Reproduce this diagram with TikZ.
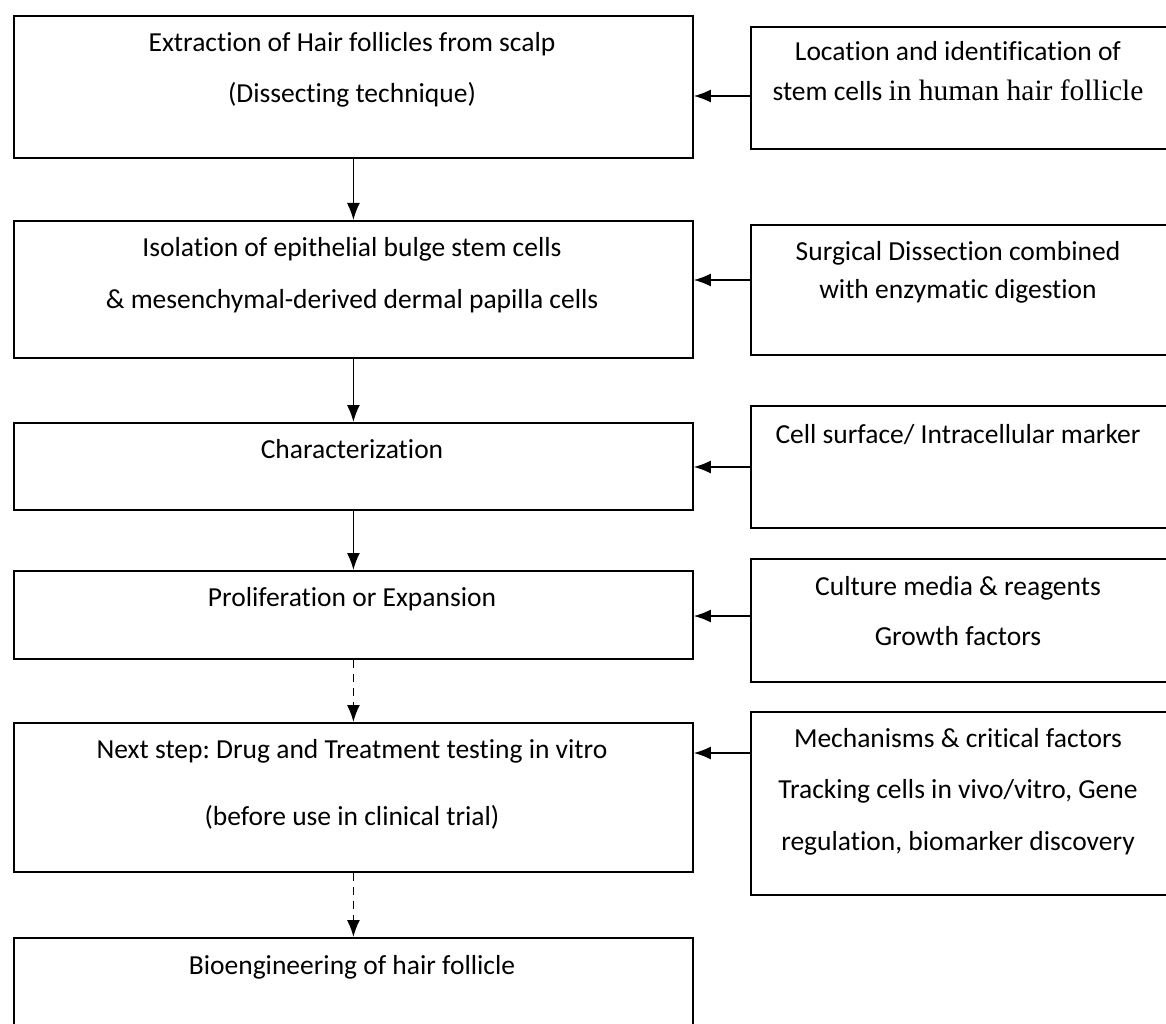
\documentclass[tikz,border=0pt]{standalone}
\usepackage{fontspec}
\setmainfont{Carlito}[Ligatures=NoCommon]
\newfontfamily\serifx{Liberation Serif}
\usetikzlibrary{arrows.meta}
\frenchspacing
\begin{document}
\begin{tikzpicture}[x=1pt,y=-1pt,
  box/.style={draw, line width=1.8pt, rectangle, inner sep=0pt, anchor=north west},
  txt/.style={font=\fontsize{27.5}{32}\selectfont, anchor=base, inner sep=0pt},
  arr/.style={-{Latex[length=17pt,width=13pt]}, line width=1.6pt},
  darr/.style={arr, dash pattern=on 8pt off 6pt}]
\useasboundingbox (0,0) rectangle (1166,1024);
\clip (0,0) rectangle (1166,1024);

% left column boxes
\node[box, minimum width=679pt, minimum height=142pt] (L1) at (13,15) {};
\node[box, minimum width=679pt, minimum height=137pt] (L2) at (13,220) {};
\node[box, minimum width=679pt, minimum height=87pt]  (L3) at (13,422) {};
\node[box, minimum width=679pt, minimum height=88pt]  (L4) at (13,570) {};
\node[box, minimum width=679pt, minimum height=149pt] (L5) at (13,722) {};
\node[box, minimum width=679pt, minimum height=120pt] (L6) at (13,937) {};

% right column boxes
\node[box, minimum width=440pt, minimum height=122pt] (R1) at (750,26) {};
\node[box, minimum width=440pt, minimum height=130pt] (R2) at (750,224) {};
\node[box, minimum width=440pt, minimum height=122pt] (R3) at (750,405) {};
\node[box, minimum width=440pt, minimum height=123pt] (R4) at (750,558) {};
\node[box, minimum width=440pt, minimum height=183pt] (R5) at (750,711) {};

% left texts
\node[txt] (l1a) at (352,52) {Extraction of Hair follicles from scalp};
\node[txt] (l1b) at (352,103) {(Dissecting technique)};
\node[txt] (l2a) at (352,256) {Isolation of epithelial bulge stem cells};
\node[txt] (l2b) at (352,308) {\& mesenchymal-derived dermal papilla cells};
\node[txt] (l3a) at (352,458) {Characterization};
\node[txt] (l4a) at (352,606) {Proliferation or Expansion};
\node[txt] (l5a) at (352,758) {Next step: Drug and Treatment testing in vitro};
\node[txt] (l5b) at (352,825) {(before use in clinical trial)};
\node[txt] (l6a) at (352,974) {Bioengineering of hair follicle};

% right texts
\node[txt] (r1a) at (958,61) {Location and identification of};
\node[txt] (r1b) at (958,101) {stem cells {\serifx\fontsize{29.5}{32}\selectfont in human hair follicle}};
\node[txt] (r2a) at (958,260) {Surgical Dissection combined};
\node[txt] (r2b) at (958,298) {with enzymatic digestion};
\node[txt] (r3a) at (958,443) {Cell surface/ Intracellular marker};
\node[txt] (r4a) at (958,595) {Culture media \& reagents};
\node[txt] (r4b) at (958,645) {Growth factors};
\node[txt] (r5a) at (958,747) {Mechanisms \& critical factors};
\node[txt] (r5b) at (958,798) {Tracking cells in vivo/vitro, Gene};
\node[txt] (r5c) at (958,850) {regulation, biomarker discovery};

% vertical connectors
\draw[arr]  (L1.south) -- (L2.north);
\draw[arr]  (L2.south) -- (L3.north);
\draw[arr]  (L3.south) -- (L4.north);
\draw[darr] (L4.south) -- (L5.north);
\draw[darr] (L5.south) -- (L6.north);

% horizontal connectors
\coordinate (h1) at (0,96);
\coordinate (h2) at (0,280);
\coordinate (h3) at (0,467);
\coordinate (h4) at (0,616);
\coordinate (h5) at (0,753);
\draw[arr] (R1.west |- h1) -- (L1.east |- h1);
\draw[arr] (R2.west |- h2) -- (L2.east |- h2);
\draw[arr] (R3.west |- h3) -- (L3.east |- h3);
\draw[arr] (R4.west |- h4) -- (L4.east |- h4);
\draw[arr] (R5.west |- h5) -- (L5.east |- h5);
\end{tikzpicture}
\end{document}
